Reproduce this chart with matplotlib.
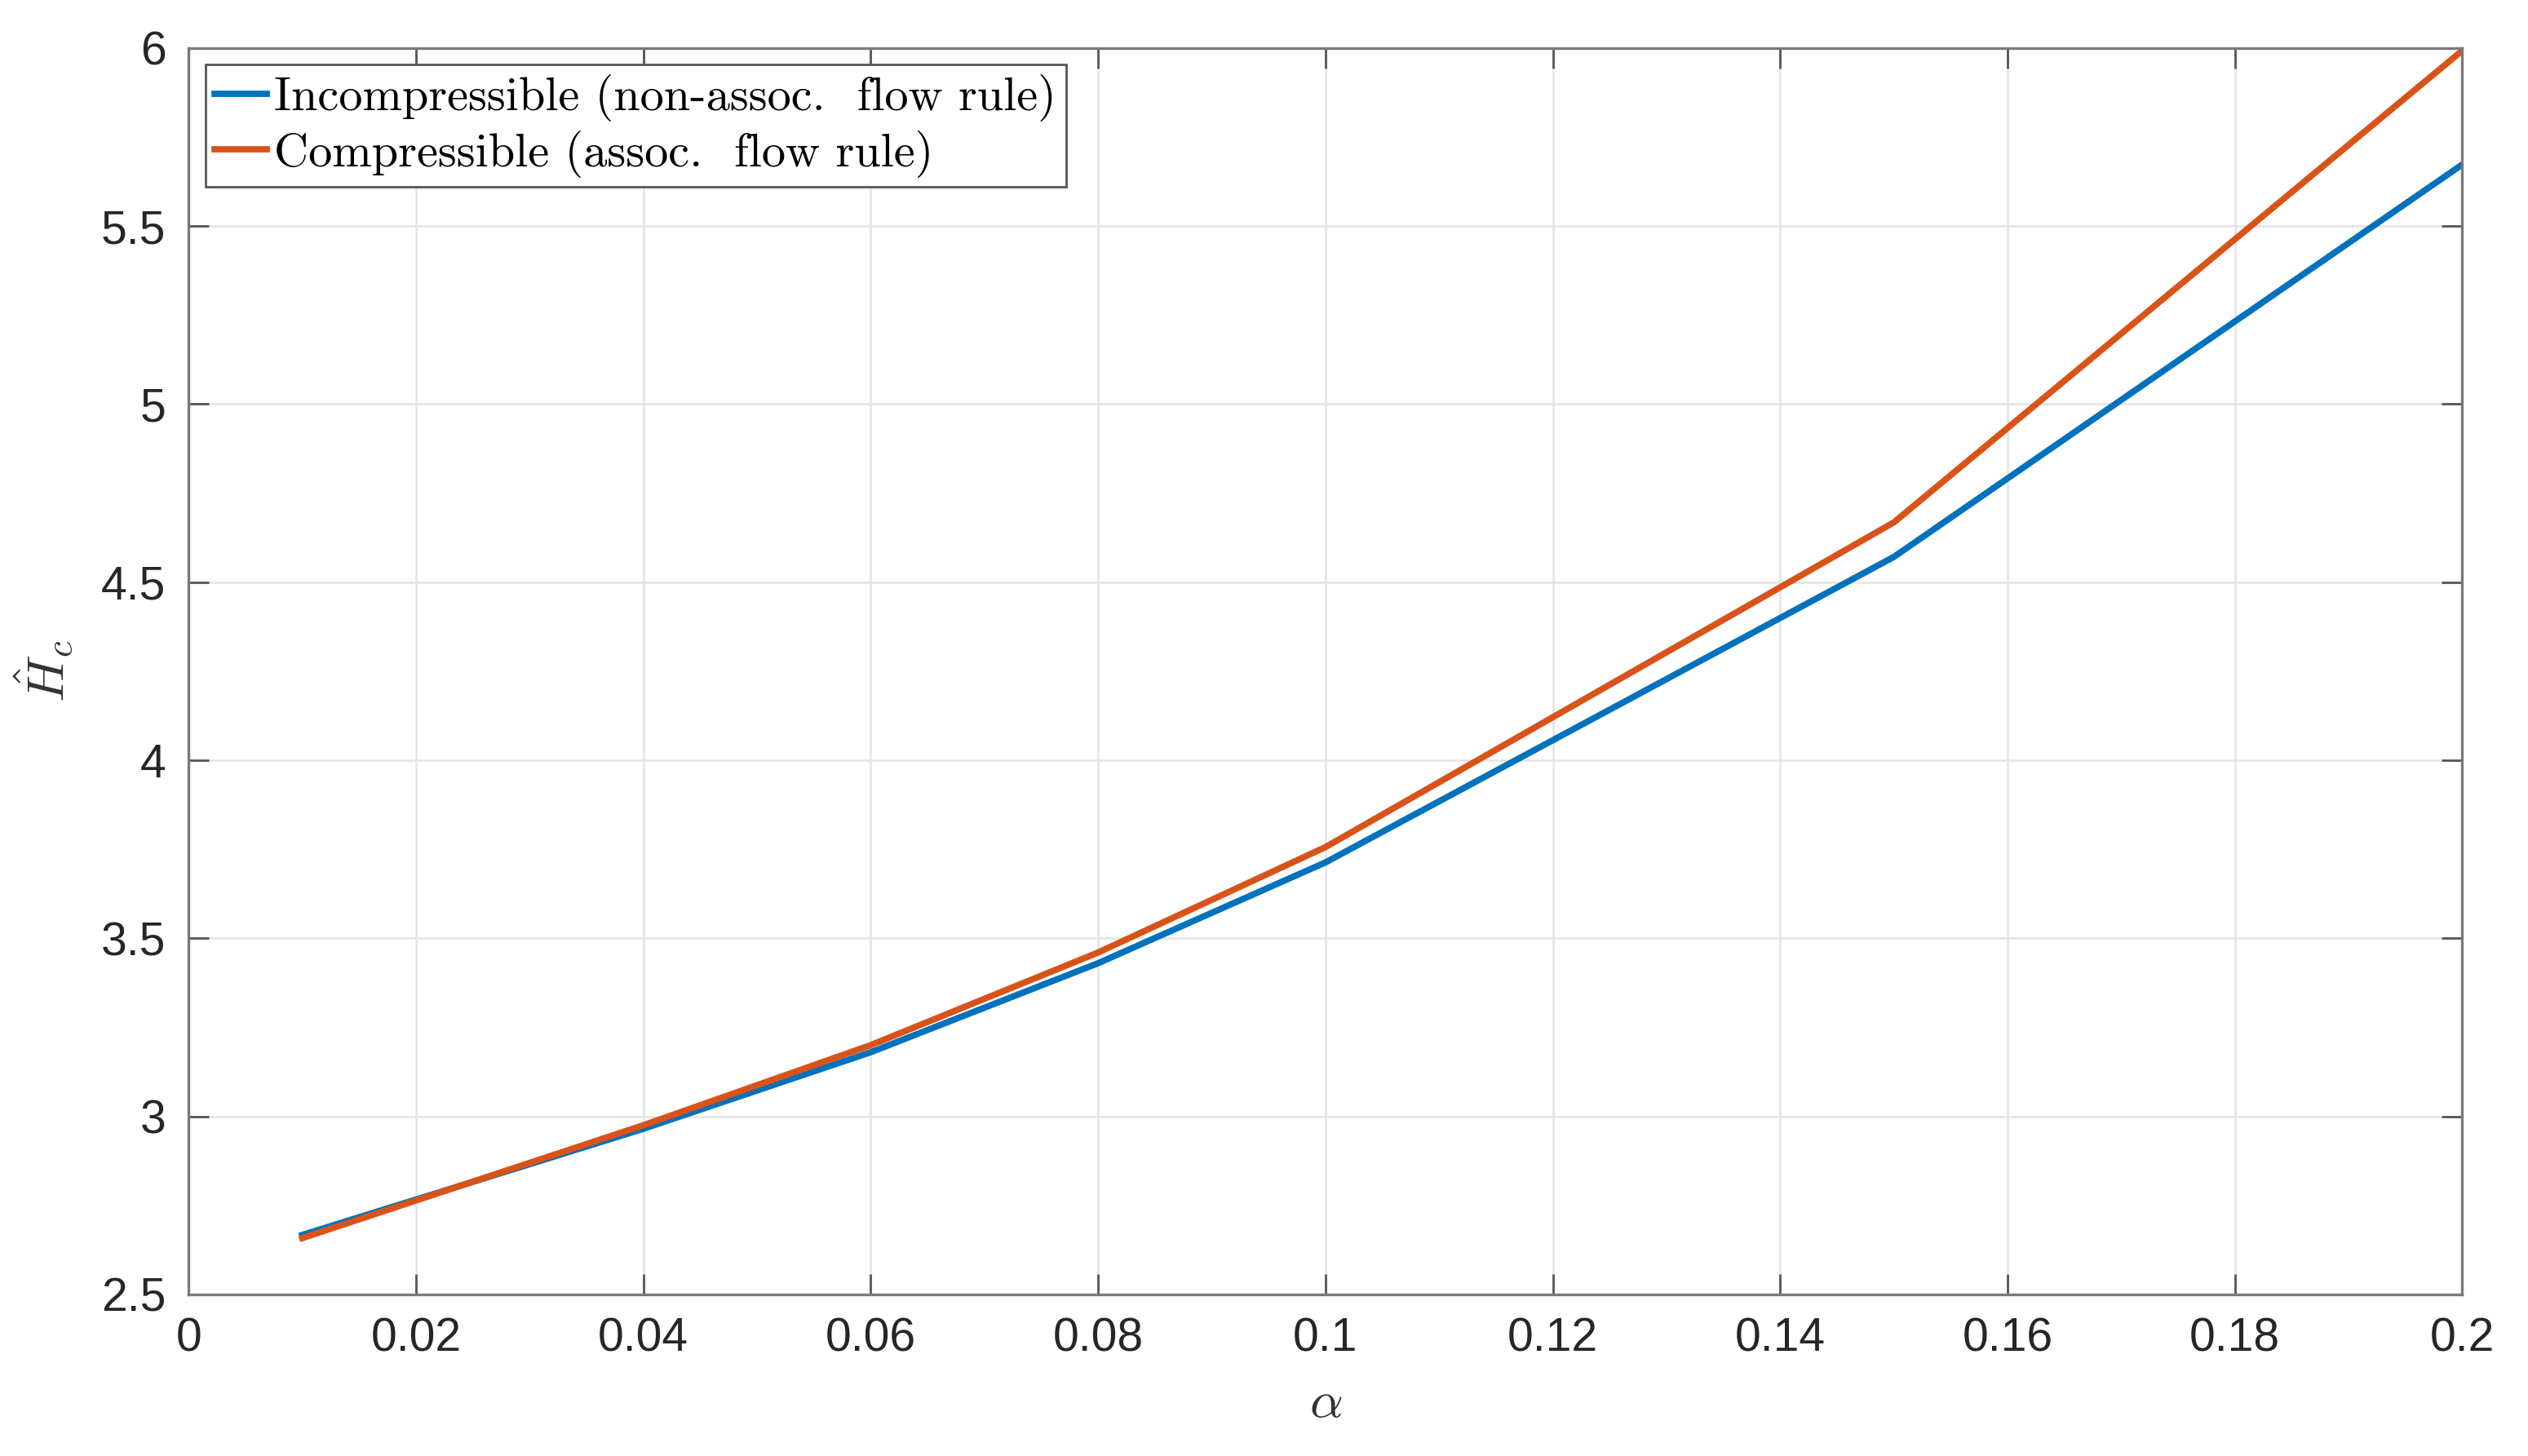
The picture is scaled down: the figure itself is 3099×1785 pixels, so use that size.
import numpy as np
import matplotlib
matplotlib.use('Agg')
import matplotlib.pyplot as plt

plt.rcParams['mathtext.fontset'] = 'cm'

alpha = [0.01, 0.04, 0.06, 0.08, 0.10, 0.15, 0.20]
hc_incomp = [2.667, 2.965, 3.18, 3.43, 3.713, 4.571, 5.673]
hc_comp = [2.658, 2.975, 3.20, 3.46, 3.756, 4.668, 5.993]

labels = ['Incompressible (non-assoc.  flow rule)',
          'Compressible (assoc.  flow rule)']

xticks = [0, 0.02, 0.04, 0.06, 0.08, 0.1, 0.12, 0.14, 0.16, 0.18, 0.2]
xticklabels = ['0', '0.02', '0.04', '0.06', '0.08', '0.1', '0.12', '0.14', '0.16', '0.18', '0.2']
yticks = [2.5, 3, 3.5, 4, 4.5, 5, 5.5, 6]
yticklabels = ['2.5', '3', '3.5', '4', '4.5', '5', '5.5', '6']

fig = plt.figure(figsize=(15.495, 8.925), dpi=200)
ax = fig.add_axes([0.0746, 0.111, 0.8994, 0.856])

ax.plot(alpha, hc_incomp, color='#0072BD', lw=2.8, label=labels[0])
ax.plot(alpha, hc_comp, color='#D95319', lw=2.8, label=labels[1])

ax.set_xlim(0, 0.2)
ax.set_ylim(2.5, 6)
ax.set_xticks(xticks)
ax.set_xticklabels(xticklabels, family='Liberation Sans')
ax.set_yticks(yticks)
ax.set_yticklabels(yticklabels, family='Liberation Sans')
ax.tick_params(direction='in', length=9, width=1.0, labelsize=20.5,
               colors='#555555', labelcolor='#262626', top=True, right=True, pad=10)
ax.grid(True, color='#e4e4e4', lw=0.9)
for s in ax.spines.values():
    s.set_color('#7a7a7a')
    s.set_linewidth(1.2)

ax.set_xlabel(r'$\alpha$', fontsize=23, color='#333333', labelpad=7)
ax.set_ylabel(r'$\hat{H}_c$', fontsize=23, color='#333333', labelpad=11)

leg = ax.legend(loc='upper left', prop={'family': 'cmr10', 'size': 21},
                fancybox=False, framealpha=1, edgecolor='#555555',
                handlelength=1.1, handletextpad=0.15, borderpad=0.2,
                labelspacing=0.18, borderaxespad=0.35)
leg.get_frame().set_linewidth(1.0)

fig.savefig('out.png', dpi=200, facecolor='white')
